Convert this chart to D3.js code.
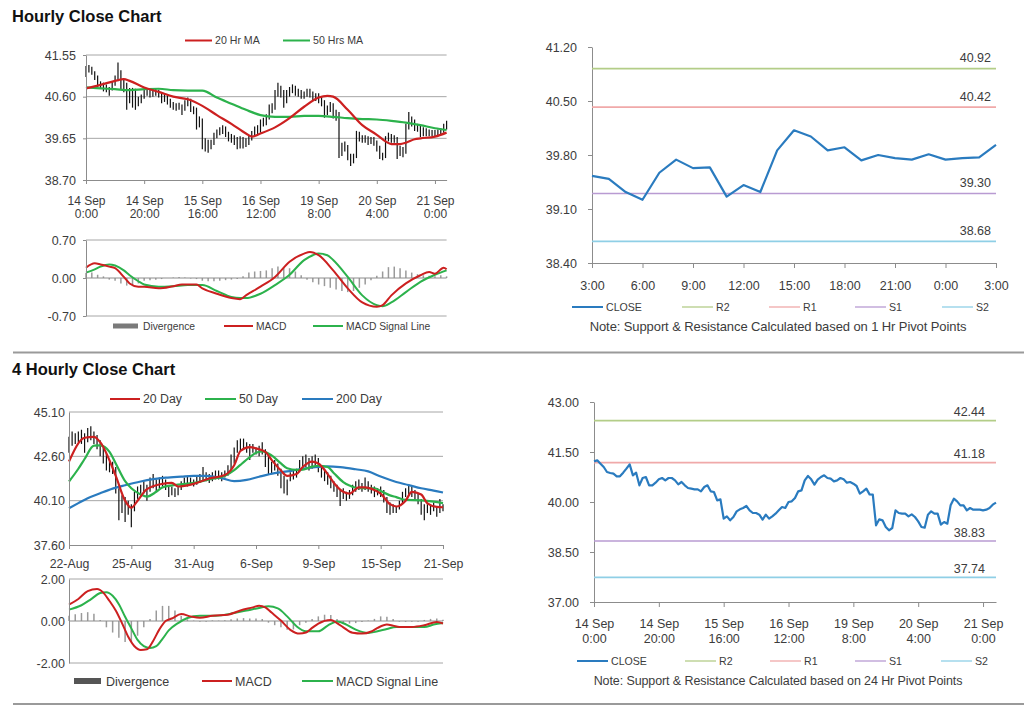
<!DOCTYPE html>
<html><head><meta charset="utf-8">
<script src="https://cdn.jsdelivr.net/npm/d3@7"></script>
<style>
body{margin:0;background:#fff;}
svg{display:block;}
</style></head><body>
<svg id="c" width="1024" height="706"></svg>
<script>
// ---------------- DATA ----------------
// Hourly closes, 14 Sep 0:00 onward (index = hour)
const hourlyClose=[41.22,41.25,41.15,41.05,40.90,40.87,40.85,40.77,40.77,40.88,41.00,41.13,40.80,40.88,40.50,40.72,40.75,40.50,40.50,40.58,
40.68,40.72,40.65,40.72,40.72,40.65,40.53,40.60,40.50,40.42,40.40,40.38,40.38,40.32,40.45,40.50,40.32,40.30,40.05,40.08,
39.50,39.57,39.45,39.55,39.72,39.78,39.82,39.88,39.75,39.67,39.67,39.62,39.47,39.62,39.50,39.57,39.65,39.75,39.85,39.82,
40.00,40.02,40.12,40.32,40.35,40.65,40.78,40.68,40.52,40.67,40.75,40.80,40.72,40.70,40.62,40.65,40.72,40.68,40.58,40.60,
40.55,40.48,40.25,40.32,40.40,40.23,40.22,39.30,39.48,39.45,39.25,39.15,39.22,39.75,39.67,39.65,39.65,39.57,39.63,39.55,
39.42,39.25,39.23,39.62,39.72,39.65,39.65,39.32,39.40,39.35,39.90,40.10,40.02,39.90,39.90,39.75,39.82,39.77,39.77,39.77,
39.75,39.77,39.82,39.92,39.98];
const hourlyLow=[41.05,41.15,41.10,40.98,40.82,40.80,40.72,40.70,40.62,40.74,40.85,40.95,40.75,40.70,40.30,40.45,40.35,40.30,40.38,40.45,
40.55,40.62,40.58,40.60,40.62,40.58,40.45,40.48,40.42,40.35,40.30,40.28,40.30,40.18,40.28,40.38,40.25,40.20,39.85,39.90,
39.40,39.35,39.32,39.40,39.50,39.65,39.72,39.75,39.68,39.58,39.55,39.50,39.40,39.42,39.42,39.45,39.50,39.60,39.70,39.75,
39.78,39.92,39.95,40.08,40.22,40.30,40.60,40.58,40.35,40.45,40.60,40.68,40.62,40.60,40.55,40.55,40.60,40.58,40.50,40.50,
40.45,40.38,40.12,40.18,40.25,40.10,40.05,39.20,39.25,39.35,39.15,39.02,39.08,39.20,39.58,39.55,39.55,39.50,39.52,39.48,
39.35,39.18,39.15,39.20,39.58,39.55,39.55,39.18,39.25,39.22,39.30,39.85,39.92,39.82,39.80,39.68,39.70,39.70,39.70,39.70,
39.68,39.70,39.72,39.78,39.85];
const hourlyHigh=[41.30,41.32,41.28,41.18,41.08,40.95,40.92,40.88,40.82,40.95,41.08,41.38,41.20,41.00,40.92,40.80,40.80,40.78,40.60,40.65,
40.75,40.80,40.76,40.78,40.80,40.76,40.68,40.66,40.63,40.55,40.48,40.45,40.46,40.42,40.52,40.58,40.55,40.38,40.35,40.15,
40.10,39.65,39.62,39.62,39.78,39.85,39.90,39.95,39.92,39.80,39.75,39.72,39.68,39.70,39.68,39.65,39.72,39.82,39.92,39.95,
40.08,40.12,40.20,40.42,40.45,40.75,40.92,40.85,40.75,40.75,40.82,40.88,40.85,40.78,40.75,40.72,40.78,40.78,40.72,40.68,
40.68,40.60,40.52,40.40,40.48,40.45,40.30,40.25,39.55,39.58,39.50,39.30,39.30,39.82,39.80,39.72,39.72,39.70,39.68,39.68,
39.60,39.48,39.32,39.70,39.78,39.75,39.72,39.68,39.48,39.45,39.98,40.25,40.15,40.08,39.98,39.95,39.90,39.88,39.85,39.84,
39.84,39.85,39.88,39.98,40.05];
const ma20Hr=[[0,40.79],[5,40.87],[10,40.96],[13,41.00],[15,40.96],[20,40.81],[25,40.71],[30,40.60],[35,40.54],[40,40.39],[45,40.18],[50,39.98],[55,39.76],[57,39.69],[60,39.76],[65,39.90],[70,40.11],[75,40.37],[80,40.58],[83,40.62],[85,40.60],[90,40.30],[95,39.95],[100,39.73],[103,39.58],[105,39.52],[108,39.52],[110,39.55],[113,39.63],[115,39.65],[120,39.69],[124,39.78]];
const ma50Hr=[[0,40.81],[5,40.79],[10,40.77],[15,40.75],[20,40.77],[25,40.78],[30,40.75],[35,40.74],[40,40.74],[45,40.58],[50,40.44],[55,40.30],[60,40.18],[65,40.14],[70,40.14],[75,40.16],[80,40.16],[85,40.14],[90,40.11],[95,40.09],[100,40.08],[105,40.05],[110,40.01],[115,39.95],[120,39.88],[124,39.84]];
const macdHr=[[0,0.19],[3,0.27],[5,0.25],[8,0.21],[10,0.18],[13,0.02],[15,-0.10],[18,-0.16],[20,-0.16],[25,-0.19],[30,-0.15],[33,-0.12],[38,-0.12],[40,-0.19],[45,-0.29],[50,-0.37],[53,-0.39],[55,-0.32],[60,-0.16],[65,0.02],[70,0.30],[75,0.45],[77,0.48],[80,0.42],[85,0.14],[90,-0.19],[95,-0.45],[100,-0.53],[102,-0.50],[105,-0.32],[110,-0.10],[115,0.05],[118,0.11],[120,0.08],[123,0.19],[124,0.16]];
const signalHr=[[0,0.10],[3,0.16],[5,0.21],[8,0.25],[10,0.23],[13,0.14],[15,0.05],[18,-0.06],[20,-0.12],[25,-0.16],[30,-0.15],[35,-0.13],[40,-0.13],[45,-0.24],[50,-0.35],[53,-0.37],[55,-0.37],[60,-0.29],[65,-0.13],[70,0.06],[75,0.33],[78,0.42],[80,0.45],[83,0.42],[85,0.33],[90,0.02],[95,-0.32],[100,-0.50],[102,-0.52],[105,-0.45],[110,-0.26],[115,-0.07],[120,0.06],[124,0.14]];
// divergence, every second hour starting at index 0
const divergenceHr=[0.09,0.10,0.06,0.03,-0.03,-0.05,-0.10,-0.14,-0.15,-0.10,-0.05,-0.04,-0.03,-0.02,0.00,0.01,0.02,0.01,-0.01,-0.02,
-0.05,-0.06,-0.06,-0.05,-0.04,-0.03,-0.02,0.03,0.10,0.12,0.13,0.14,0.18,0.21,0.20,0.18,0.12,0.05,-0.03,-0.08,
-0.12,-0.15,-0.18,-0.21,-0.24,-0.26,-0.24,-0.18,-0.12,-0.04,0.04,0.12,0.20,0.21,0.18,0.14,0.10,0.07,0.05,0.04,
0.03,0.05,0.03];
const hourTickIdx=[0,20,40,60,80,100,120];
const hourTickLabels=[["14 Sep","0:00"],["14 Sep","20:00"],["15 Sep","16:00"],["16 Sep","12:00"],["19 Sep","8:00"],["20 Sep","4:00"],["21 Sep","0:00"]];
const hrPriceTicks=[38.70,39.65,40.60,41.55];
const hrMacdTicks=[-0.70,0.00,0.70];

// 1 Hr pivot chart (last 25 hours)
const pivotClose=[39.53,39.49,39.32,39.22,39.57,39.74,39.63,39.64,39.26,39.41,39.32,39.86,40.12,40.04,39.86,39.90,39.73,39.80,39.76,39.74,39.81,39.74,39.76,39.77,39.93];
const pivotTickIdx=[0,3,6,9,12,15,18,21,24];
const pivotTickLabels=["3:00","6:00","9:00","12:00","15:00","18:00","21:00","0:00","3:00"];
const pivotYTicks=[38.40,39.10,39.80,40.50,41.20];
const levelNames=["R2","R1","S1","S2"];
const levels1Hr=[40.92,40.42,39.30,38.68];
const levels24Hr=[42.44,41.18,38.83,37.74];
const dayYTicks=[37.00,38.50,40.00,41.50,43.00];

// 4 hourly chart, 22 Aug onward (index = 4h bar)
const fourLow=[42.8,43.2,43.3,43.4,43.3,42.8,43.4,43.5,43.3,43.0,42.6,42.2,41.8,41.7,41.6,40.5,39.0,39.4,38.9,39.3,
38.6,39.5,40.2,40.3,40.5,40.1,40.6,40.8,40.6,40.8,40.9,40.7,40.3,40.4,40.3,40.4,40.7,40.9,40.9,41.0,
40.9,41.0,41.1,41.2,41.2,41.1,41.2,41.3,41.3,41.2,41.4,41.5,41.8,42.2,42.8,42.9,43.0,42.8,42.4,42.8,
42.7,42.6,42.7,42.0,41.6,41.6,41.8,41.5,40.8,40.5,40.4,41.2,41.3,41.4,41.7,41.9,42.0,41.8,41.9,42.0,
41.7,41.4,41.2,41.0,40.8,40.6,40.3,39.8,40.2,40.1,40.2,40.4,40.6,40.7,40.6,40.7,40.6,40.5,40.3,40.4,
40.3,40.0,39.4,39.3,39.4,39.4,39.6,39.9,40.3,40.4,40.3,40.1,39.9,39.3,39.0,39.4,39.3,39.5,39.2,39.4,39.5];
const fourHigh=[43.7,44.0,43.9,44.0,44.1,43.9,44.2,44.3,44.0,43.8,43.5,43.1,42.8,42.4,42.3,42.0,40.8,40.4,40.3,40.1,
39.9,40.6,40.9,41.0,41.2,41.0,41.4,41.6,41.3,41.4,41.5,41.3,40.9,40.9,40.8,40.9,41.2,41.4,41.5,41.4,
41.3,41.5,41.6,42.0,41.7,41.6,41.7,41.8,41.8,41.7,41.8,42.1,42.7,43.1,43.5,43.6,43.6,43.4,43.3,43.3,
43.1,43.2,43.4,43.0,42.6,42.3,42.4,42.2,41.9,41.5,41.3,41.7,41.8,41.9,42.4,42.6,42.7,42.5,42.6,42.7,
42.5,42.1,41.9,41.7,41.5,41.2,41.0,40.7,40.8,40.6,40.7,41.0,41.2,41.3,41.1,41.4,41.2,41.0,40.9,40.8,
40.9,40.7,40.3,40.0,39.9,39.8,40.1,40.6,40.8,41.0,40.9,40.7,40.5,40.2,39.9,39.9,39.8,40.0,39.8,40.2,39.9];
const ma20Day=[[0,42.31],[5,43.65],[8,43.70],[10,43.40],[15,41.50],[18,40.10],[20,39.70],[22,40.10],[25,40.75],[30,41.05],[33,41.10],[35,40.90],[40,41.05],[45,41.35],[50,41.55],[53,42.10],[55,42.90],[58,43.12],[60,43.05],[63,42.85],[65,42.40],[68,41.80],[70,41.50],[73,41.60],[75,42.00],[78,42.30],[80,42.20],[83,41.60],[85,41.10],[88,40.60],[90,40.50],[93,40.85],[95,40.85],[98,40.70],[100,40.50],[103,39.90],[105,39.77],[108,40.10],[110,40.60],[113,40.45],[115,39.95],[118,39.75],[120,39.73]];
const ma50Day=[[0,41.18],[3,41.90],[5,42.45],[8,43.20],[10,43.22],[13,42.85],[15,42.20],[18,41.20],[20,40.80],[23,40.45],[25,40.33],[28,40.60],[30,40.85],[35,41.00],[40,41.10],[45,41.30],[50,41.50],[53,41.82],[55,42.12],[58,42.55],[60,42.80],[62,42.88],[65,42.65],[68,42.20],[70,41.93],[73,41.84],[75,41.85],[78,42.02],[80,42.07],[83,42.00],[85,41.65],[88,41.15],[90,40.95],[93,40.80],[95,40.80],[98,40.80],[100,40.65],[103,40.40],[105,40.30],[108,40.14],[113,40.12],[117,40.05],[120,39.96]];
const ma200Day=[[0,39.67],[3,39.96],[6,40.24],[10,40.52],[14,40.78],[18,40.97],[23,41.18],[27,41.31],[31,41.40],[36,41.46],[40,41.50],[44,41.50],[49,41.37],[53,41.20],[57,41.27],[61,41.45],[66,41.65],[70,41.75],[74,41.87],[79,41.99],[83,42.03],[87,41.99],[92,41.87],[96,41.75],[100,41.46],[105,41.15],[109,40.98],[113,40.80],[117,40.67],[120,40.56]];
const macd4=[[0,0.78],[3,1.05],[6,1.42],[9,1.52],[11,1.35],[13,0.95],[15,0.50],[17,-0.10],[19,-0.75],[21,-1.20],[23,-1.38],[25,-1.35],[27,-0.95],[29,-0.40],[31,0.00],[33,0.12],[36,0.33],[39,0.22],[42,0.15],[46,0.25],[51,0.30],[55,0.50],[59,0.65],[61,0.73],[63,0.65],[65,0.40],[68,0.02],[71,-0.42],[74,-0.60],[76,-0.55],[78,-0.33],[80,-0.12],[84,0.05],[86,-0.10],[88,-0.30],[91,-0.56],[94,-0.60],[97,-0.50],[99,-0.33],[102,-0.17],[104,-0.22],[106,-0.28],[110,-0.28],[114,-0.20],[118,-0.05],[120,-0.12]];
const signal4=[[0,0.54],[4,0.75],[7,1.03],[10,1.33],[12,1.37],[14,1.20],[16,0.80],[18,0.20],[20,-0.35],[22,-0.90],[24,-1.20],[26,-1.29],[28,-1.20],[30,-0.85],[32,-0.45],[35,-0.10],[38,0.14],[42,0.25],[47,0.25],[53,0.38],[57,0.50],[61,0.62],[64,0.70],[67,0.60],[70,0.22],[73,-0.25],[76,-0.49],[80,-0.49],[83,-0.22],[86,-0.02],[89,-0.17],[92,-0.41],[96,-0.57],[99,-0.49],[102,-0.38],[105,-0.29],[110,-0.29],[114,-0.29],[117,-0.17],[120,-0.10]];
// divergence, every second bar starting at index 0
const divergence4=[0.25,0.32,0.38,0.42,0.35,0.05,-0.30,-0.55,-0.80,-1.00,-1.00,-0.70,-0.30,0.10,0.50,0.72,0.72,0.50,0.25,0.08,
0.02,-0.03,-0.04,0.03,0.02,0.04,0.08,0.12,0.14,0.12,0.12,0.10,-0.08,-0.20,-0.30,-0.42,-0.40,-0.20,-0.08,0.10,
0.22,0.30,0.28,0.10,-0.08,-0.12,-0.10,-0.05,0.02,0.10,0.22,0.20,0.10,-0.03,-0.04,-0.04,-0.03,0.05,0.10,0.12,0.06];
const fourTickIdx=[0,20,40,60,80,100,120];
const fourTickLabels=["22-Aug","25-Aug","31-Aug","6-Sep","9-Sep","15-Sep","21-Sep"];
const fourPriceTicks=[37.60,40.10,42.60,45.10];
const fourMacdTicks=[-2.00,0.00,2.00];

// ---------------- DRAWING ----------------
const F='Arial, "Liberation Sans", sans-serif';
const TXT='#3c3c3c', AX='#8c8c8c', GRID='#a6a6a6';
const RED='#cc2020', GREEN='#2cb24c', BLUE='#2a7bbf', BAR='#111';
const levelColors=['#b3cd88','#f0a9a9','#b99bd2','#8fcfe6'];
const svg=d3.select('#c').attr('font-family',F);
const fmt2=d=>(+d).toFixed(2);

function styleAxis(g,fs){
  g.attr('font-family',F);
  g.select('.domain').attr('stroke',AX);
  g.selectAll('.tick line').attr('stroke',AX);
  g.selectAll('.tick text').attr('fill',TXT).attr('font-size',fs);
}
function yAxis(y,xPos,vals,fs,pad,tick){
  const g=svg.append('g').attr('transform',`translate(${xPos},0)`)
    .call(d3.axisLeft(y).tickValues(vals).tickFormat(fmt2).tickSize(tick).tickSizeOuter(0).tickPadding(pad));
  styleAxis(g,fs);
}
function xAxis(x,yPos,vals,labels,fs,base,lh,tick){
  const g=svg.append('g').attr('transform',`translate(0,${yPos})`)
    .call(d3.axisBottom(x).tickValues(vals).tickFormat('').tickSize(tick).tickSizeOuter(0));
  styleAxis(g,fs);
  g.selectAll('.tick').each(function(d,i){
    const t=d3.select(this).select('text').attr('y',base).attr('dy',null);
    const lines=Array.isArray(labels[i])?labels[i]:[labels[i]];
    lines.forEach((s,k)=>t.append('tspan').attr('x',0).attr('y',base+k*lh).text(s));
  });
}
function grid(x,y,vals,color){
  svg.append('g').selectAll('line').data(vals).join('line')
    .attr('x1',x.range()[0]).attr('x2',x.range()[1])
    .attr('y1',d=>y(d)).attr('y2',d=>y(d)).attr('stroke',color).attr('stroke-width',1);
}
function pathLine(x,y,data,color,w,curve){
  svg.append('path').datum(data).attr('fill','none').attr('stroke',color).attr('stroke-width',w)
    .attr('stroke-linejoin','round')
    .attr('d',d3.line().x(d=>x(d[0])).y(d=>y(d[1])).curve(curve||d3.curveMonotoneX));
}
function bars(x,y,lo,hi){
  svg.append('g').selectAll('line').data(lo).join('line')
    .attr('x1',(d,i)=>x(i)).attr('x2',(d,i)=>x(i))
    .attr('y1',d=>y(d)).attr('y2',(d,i)=>y(hi[i]))
    .attr('stroke',BAR).attr('stroke-width',1.2);
}
function histo(x,y,vals,step){
  svg.append('g').selectAll('line').data(vals).join('line')
    .attr('x1',(d,i)=>x(i*step)).attr('x2',(d,i)=>x(i*step))
    .attr('y1',y(0)).attr('y2',d=>y(d))
    .attr('stroke','#9a9a9a').attr('stroke-width',1.5);
}
function legLine(x1,x2,yy,color,label,fs,w){
  svg.append('line').attr('x1',x1).attr('x2',x2).attr('y1',yy).attr('y2',yy).attr('stroke',color).attr('stroke-width',w||2);
  svg.append('text').attr('x',x2+3).attr('y',yy+fs*0.36).attr('font-size',fs).attr('fill',TXT).text(label);
}
function legBox(x1,x2,yy,h,color,label,fs){
  svg.append('rect').attr('x',x1).attr('y',yy-h/2).attr('width',x2-x1).attr('height',h).attr('fill',color);
  svg.append('text').attr('x',x2+5).attr('y',yy+fs*0.36).attr('font-size',fs).attr('fill',TXT).text(label);
}
function title(t,yy){
  svg.append('text').attr('x',12).attr('y',yy).attr('font-size',16.5).attr('font-weight','bold').attr('fill','#111').text(t);
}
function pivotPanel(x,y,close,levels,labelX,labelOff,legY,noteY,note,noteFs,legX){
  levels.forEach((v,k)=>{
    svg.append('line').attr('x1',x.range()[0]).attr('x2',x.range()[1]).attr('y1',y(v)).attr('y2',y(v))
      .attr('stroke',levelColors[k]).attr('stroke-width',1.6);
    svg.append('text').attr('x',labelX).attr('y',y(v)-labelOff).attr('text-anchor','end')
      .attr('font-size',12.5).attr('fill',TXT).text(fmt2(v));
  });
  pathLine(x,y,close.map((d,i)=>[i,d]),BLUE,2.2,d3.curveLinear);
  const names=['CLOSE'].concat(levelNames), cols=[BLUE].concat(levelColors);
  names.forEach((n,k)=>legLine(legX[k],legX[k]+31,legY,cols[k],n,10.6,k===0?2:1.3));
  svg.append('text').attr('x',778).attr('y',noteY).attr('text-anchor','middle').attr('font-size',noteFs)
    .attr('fill',TXT).attr('letter-spacing',-0.1).text(note);
}

// ===== Top-left: hourly close =====
title('Hourly Close Chart',22);
{
  const x=d3.scaleLinear([0,124],[86,446.6]);
  const y=d3.scaleLinear([38.70,41.55],[180,55]);
  grid(x,y,hrPriceTicks.slice(1),GRID);
  bars(x,y,hourlyLow,hourlyHigh);
  pathLine(x,y,ma50Hr,GREEN,2.2);
  pathLine(x,y,ma20Hr,RED,2.2);
  yAxis(y,86,hrPriceTicks,12.5,7,3);
  xAxis(x,180,hourTickIdx,hourTickLabels,12,24.5,13.5,4);
  legLine(185,212,40.5,RED,'20 Hr MA',10.6);
  legLine(283,310,40.5,GREEN,'50 Hrs MA',10.6);

  const ym=d3.scaleLinear([-0.70,0.70],[316,240]);
  grid(x,ym,[0.70,-0.70],GRID);
  histo(x,ym,divergenceHr,2);
  svg.append('line').attr('x1',86).attr('x2',446.6).attr('y1',ym(0)).attr('y2',ym(0)).attr('stroke',AX);
  pathLine(x,ym,signalHr,GREEN,2);
  pathLine(x,ym,macdHr,RED,2);
  yAxis(ym,86,hrMacdTicks,12.5,7,3);
  legBox(113,138,326,5,'#7a7a7a','Divergence',10.3);
  legLine(224,253,326,RED,'MACD',10.3);
  legLine(313,343,326,GREEN,'MACD Signal Line',10.3);
}
// ===== Top-right: 1 Hr pivot =====
{
  const x=d3.scaleLinear([0,24],[592,996]);
  const y=d3.scaleLinear([38.40,41.20],[263,47]);
  yAxis(y,592,pivotYTicks,12.5,11,4);
  xAxis(x,263,pivotTickIdx,pivotTickLabels,12.5,27,0,5);
  pivotPanel(x,y,pivotClose,levels1Hr,991,6.5,307,330.5,
    'Note: Support & Resistance Calculated based on 1 Hr Pivot Points',13,[572,682,769,855,942]);
}
// separators
svg.append('line').attr('x1',13).attr('x2',1024).attr('y1',352.5).attr('y2',352.5).attr('stroke','#9a9a9a').attr('stroke-width',2);
svg.append('line').attr('x1',13).attr('x2',1024).attr('y1',704).attr('y2',704).attr('stroke','#9a9a9a').attr('stroke-width',2);

// ===== Bottom-left: 4 hourly =====
title('4 Hourly Close Chart',375);
{
  const x=d3.scaleLinear([0,120],[69,443]);
  const y=d3.scaleLinear([37.60,45.10],[545,412]);
  grid(x,y,fourPriceTicks.slice(1),GRID);
  bars(x,y,fourLow,fourHigh);
  pathLine(x,y,ma200Day,BLUE,2.2);
  pathLine(x,y,ma50Day,GREEN,2.2);
  pathLine(x,y,ma20Day,RED,2.2);
  yAxis(y,69,fourPriceTicks,12.5,4,0);
  xAxis(x,545,fourTickIdx,fourTickLabels,12.3,22.5,0,4);
  legLine(110,140,399,RED,'20 Day',12.3);
  legLine(205,236,399,GREEN,'50 Day',12.3);
  legLine(302,333,399,BLUE,'200 Day',12.3);

  const ym=d3.scaleLinear([-2,2],[663,579]);
  grid(x,ym,[2,-2],GRID);
  histo(x,ym,divergence4,2);
  svg.append('line').attr('x1',69).attr('x2',443).attr('y1',ym(0)).attr('y2',ym(0)).attr('stroke',AX);
  pathLine(x,ym,signal4,GREEN,2);
  pathLine(x,ym,macd4,RED,2);
  yAxis(ym,69,fourMacdTicks,12.5,4,0);
  legBox(74,101,681,6,'#555','Divergence',12.5);
  legLine(202,232,681,RED,'MACD',12.5);
  legLine(302,333,681,GREEN,'MACD  Signal Line',12.5);
}
// ===== Bottom-right: 24 Hr pivot =====
{
  const x=d3.scaleLinear([0,124],[594,996]);
  const y=d3.scaleLinear([37.00,43.00],[602,402]);
  yAxis(y,594,dayYTicks,12.5,11,4);
  xAxis(x,602,hourTickIdx,hourTickLabels,12.5,25.5,15,5);
  pivotPanel(x,y,hourlyClose,levels24Hr,985,4.5,661,684.5,
    'Note: Support & Resistance Calculated based on 24 Hr Pivot Points',12.5,[577,685,770,855,941]);
}
</script>
</body></html>
